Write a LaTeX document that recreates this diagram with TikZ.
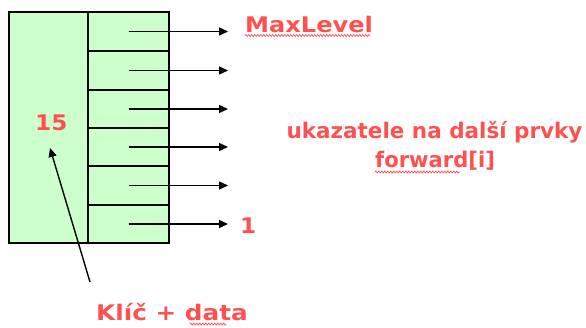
\documentclass[tikz,border=0pt]{standalone}
\usepackage{fontspec}
\setmainfont{DejaVu Sans}
\usetikzlibrary{arrows.meta,decorations.pathmorphing}
\definecolor{cellgreen}{HTML}{CCFFCC}
\definecolor{labelred}{HTML}{FF5050}
\newcommand{\wideby}[2]{\scalebox{#1}[1]{#2}}
\tikzset{
  cell/.style={draw=black, line width=1.8pt, fill=cellgreen, inner sep=0pt, outer sep=0pt, anchor=north west},
  ptr/.style={line width=1.4pt, -{Triangle[length=9pt,width=8pt]}},
  lbl/.style={text=labelred, font=\bfseries\fontsize{21.5}{24}\selectfont, inner sep=0pt, anchor=base west},
  spell/.style={labelred, line width=0.7pt, decorate, decoration={zigzag, amplitude=1pt, segment length=3pt}}
}
\begin{document}
\begin{tikzpicture}[x=1pt,y=-1pt]
\useasboundingbox (0,0) rectangle (586,327);
% key/data cell
\node[cell, minimum width=79pt, minimum height=231pt] (key) at (9,12) {};
% forward pointer cells, top = MaxLevel, bottom = 1
\foreach \i/\t/\b in {1/12/51, 2/51/90, 3/90/128, 4/128/166, 5/166/205, 6/205/243}{
  \node[cell, minimum width=81pt, minimum height={(\b-\t)*1pt}] (lv\i) at (88,\t) {};
  \coordinate (end\i) at (228,{(\t+\b)/2});
  \draw[ptr] (lv\i.center) -- (lv\i.center -| end\i);
}
% labels
\node[lbl] (key15) at (35,130) {\wideby{1.08}{15}};
\node[lbl] (maxlvl) at (245,32) {\wideby{1.12}{MaxLevel}};
\node[lbl] (one) at (240,233) {\wideby{1.08}{1}};
\node[lbl, anchor=base] (ptrs) at (434.5,138) {\wideby{1.0}{ukazatele na další prvky}};
\node[lbl] (fwd) at (375,167) {\wideby{0.98}{forward[i]}};
\node[lbl] (keydata) at (96,320) {\wideby{1.15}{Klíč + data}};
% spell-check underlines
\draw[spell] (245,35.5) -- (370,35.5);
\draw[spell] (375,172) -- (460,172);
\draw[spell] (190,324) -- (226,324);
% pointer to the key field
\coordinate (keytail) at (90,282);
\draw[ptr] (keytail) -- (50,148);
\end{tikzpicture}
\end{document}
